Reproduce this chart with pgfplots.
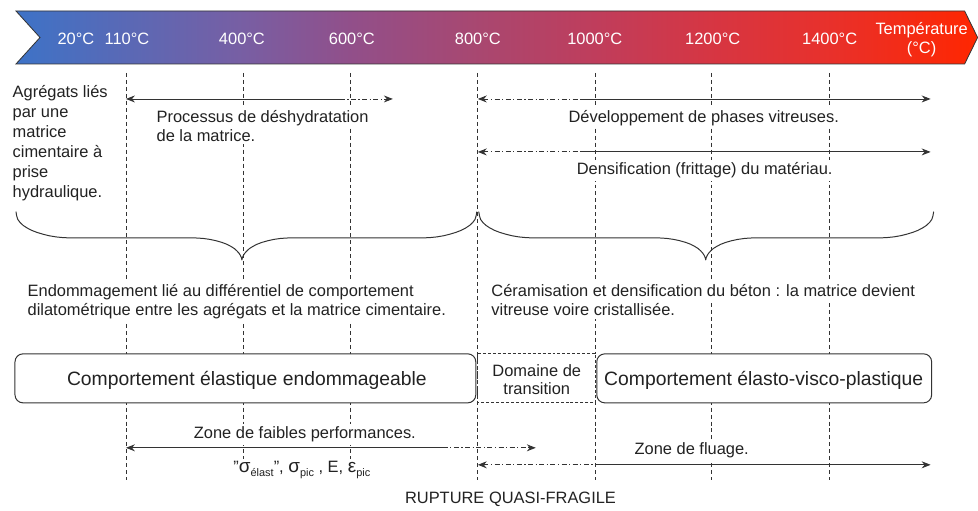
\documentclass[border=0pt]{standalone}
\usepackage{pgfplots}
\pgfplotsset{compat=1.18}
\usepackage{fontspec}
\setmainfont{Liberation Sans}
\usetikzlibrary{arrows.meta}
\definecolor{txt}{HTML}{222222}
\definecolor{ln}{HTML}{333333}
\pgfdeclarehorizontalshading{tempgrad}{100bp}{rgb(0bp)=(0.24,0.45,0.78); rgb(25bp)=(0.24,0.45,0.78); rgb(36.8bp)=(0.47,0.37,0.64); rgb(42.4bp)=(0.57,0.31,0.54); rgb(49bp)=(0.66,0.28,0.44); rgb(55.1bp)=(0.75,0.24,0.36); rgb(61.2bp)=(0.84,0.21,0.26); rgb(67.3bp)=(0.91,0.19,0.17); rgb(75bp)=(1,0.15,0); rgb(100bp)=(1,0.15,0)}
\newcommand\bodyf{\fontsize{16.5}{19.5}\selectfont}
\newcommand\boxf{\fontsize{19.4}{22}\selectfont}
\newcommand\gk{\fontsize{19}{20}\selectfont}
\newcommand\sub[1]{\raisebox{-3.5pt}{\fontsize{11}{12}\selectfont #1}}
\tikzset{
  t/.style={font=\bodyf, text=txt, inner sep=2.5pt, fill=white},
  hd/.style={font=\bodyf, text=white, inner sep=0pt},
  la/.style={{Stealth[length=9pt,width=7pt]}-},
  ra/.style={-{Stealth[length=9pt,width=7pt]}},
  dd/.style={dash pattern=on 5pt off 2.5pt on 1.2pt off 2.5pt},
  vl/.style={draw=ln, line width=0.8pt, dash pattern=on 4pt off 3pt},
  ar/.style={draw=ln, line width=0.9pt},
  br/.style={draw=ln, line width=1pt, line join=round, line cap=round},
}
\begin{document}
\begin{tikzpicture}
\begin{axis}[width=978bp, height=511bp, scale only axis, xmin=0, xmax=978, ymin=0, ymax=511, y dir=reverse, hide axis, clip=false]
\addplot[draw=none] coordinates {(0,0) (978,511)};
% banner
\addplot[draw=ln, line width=0.8pt, shade, shading=tempgrad] coordinates {(16,11) (965,11) (978,37.5) (965,64) (16,64) (40,37.5)} --cycle;
% vertical dashed lines
\addplot[vl] coordinates {(126,73) (126,480)};
\addplot[vl] coordinates {(243,73) (243,480)};
\addplot[vl] coordinates {(351,73) (351,480)};
\addplot[vl] coordinates {(478,73) (478,480)};
\addplot[vl] coordinates {(596,73) (596,480)};
\addplot[vl] coordinates {(712,73) (712,480)};
\addplot[vl] coordinates {(830,73) (830,480)};
% arrows
\addplot[ar, la] coordinates {(126,99) (340,99)};
\addplot[ar, dd, ra] coordinates {(340,99) (393,99)};
\addplot[ar, dd, la] coordinates {(478,99) (580,99)};
\addplot[ar, ra] coordinates {(580,99) (931,99)};
\addplot[ar, dd, la] coordinates {(478,152) (580,152)};
\addplot[ar, ra] coordinates {(580,152) (931,152)};
\addplot[ar, la] coordinates {(126,448) (443,448)};
\addplot[ar, dd, ra] coordinates {(443,448) (536,448)};
\addplot[ar, dd, la] coordinates {(478,465) (595,465)};
\addplot[ar, ra] coordinates {(595,465) (931,465)};
% braces
\addplot[br] coordinates {(16,212) (16.7,216) (17.8,219.5) (20,222.5) (23.2,225.5) (27,228) (31.8,230.5) (37,232.5) (43,234.3) (49,235.8) (56,237) (63,237.7) (70,238)
 (195,238) (203,238.5) (210,239.5) (216,240.8) (222,242.5) (227,244.4) (231,246.5) (234.5,248.7) (237,251) (239,253.2) (240.5,255.5) (241.5,257.8) (242,260)
 (242.5,257.8) (243.5,255.5) (245,253.2) (247,251) (249.5,248.7) (253,246.5) (257,244.4) (262,242.5) (268,240.8) (274,239.5) (281,238.5) (289,238)
 (423,238) (430,237.7) (437,237) (444,235.8) (450,234.3) (456,232.5) (461.2,230.5) (466,228) (469.8,225.5) (473,222.5) (475.2,219.5) (476.3,216) (477,212)};
\addplot[br] coordinates {(479,212) (479.7,216) (480.8,219.5) (483,222.5) (486.2,225.5) (490,228) (494.8,230.5) (500,232.5) (506,234.3) (512,235.8) (519,237) (526,237.7) (533,238)
 (659,238) (667,238.5) (674,239.5) (680,240.8) (686,242.5) (691,244.4) (695,246.5) (698.5,248.7) (701,251) (703,253.2) (704.5,255.5) (705.5,257.8) (706,260)
 (706.5,257.8) (707.5,255.5) (709,253.2) (711,251) (713.5,248.7) (717,246.5) (721,244.4) (726,242.5) (732,240.8) (738,239.5) (745,238.5) (753,238)
 (880,238) (887,237.7) (894,237) (901,235.8) (907,234.3) (913,232.5) (918.2,230.5) (923,228) (926.8,225.5) (930,222.5) (932.2,219.5) (933.3,216) (934,212)};
% boxes
\addplot[draw=ln, line width=1pt, fill=white, rounded corners=8pt] coordinates {(245,354) (476,354) (476,403) (15,403) (15,354)} --cycle;
\addplot[draw=ln, line width=0.8pt, dash pattern=on 3pt off 2pt, fill=white] coordinates {(478,354) (596,354) (596,403) (478,403)} --cycle;
\addplot[draw=ln, line width=1pt, fill=white, rounded corners=8pt] coordinates {(764,354) (932,354) (932,403) (597,403) (597,354)} --cycle;
% header labels
\node[hd, anchor=base] at (axis cs:76,44.5) {20°C};
\node[hd, anchor=base] at (axis cs:127,44.5) {110°C};
\node[hd, anchor=base] at (axis cs:242,44.5) {400°C};
\node[hd, anchor=base] at (axis cs:352,44.5) {600°C};
\node[hd, anchor=base] at (axis cs:478,44.5) {800°C};
\node[hd, anchor=base] at (axis cs:595,44.5) {1000°C};
\node[hd, anchor=base] at (axis cs:713,44.5) {1200°C};
\node[hd, anchor=base] at (axis cs:830,44.5) {1400°C};
\node[hd, anchor=base] at (axis cs:922,34.5) {Température};
\node[hd, anchor=base] at (axis cs:922,54) {(°C)};
% left column
\node[t, anchor=base west] at (axis cs:10,98) {Agrégats liés};
\node[t, anchor=base west] at (axis cs:10,118) {par une};
\node[t, anchor=base west] at (axis cs:10,138) {matrice};
\node[t, anchor=base west] at (axis cs:10,158) {cimentaire à};
\node[t, anchor=base west] at (axis cs:10,178) {prise};
\node[t, anchor=base west] at (axis cs:10,198) {hydraulique.};
% upper texts
\node[t, anchor=base west] at (axis cs:154,122.5) {Processus de déshydratation};
\node[t, anchor=base west] at (axis cs:154,141.5) {de la matrice.};
\node[t, anchor=base] at (axis cs:704,122.5) {Développement de phases vitreuses.};
\node[t, anchor=base] at (axis cs:705,175) {Densification (frittage) du matériau.};
\node[t, anchor=base west] at (axis cs:25,297) {Endommagement lié au différentiel de comportement};
\node[t, anchor=base west] at (axis cs:25,316) {dilatométrique entre les agrégats et la matrice cimentaire.};
\node[t, anchor=base west] at (axis cs:489,297) {Céramisation et densification du béton : la matrice devient};
\node[t, anchor=base west] at (axis cs:489,316) {vitreuse voire cristallisée.};
% box texts
\node[font=\boxf, text=txt, anchor=base] at (axis cs:247,385.5) {Comportement élastique endommageable};
\node[font=\boxf, text=txt, anchor=base] at (axis cs:764,385.5) {Comportement élasto-visco-plastique};
\node[font=\bodyf, text=txt, anchor=base, inner sep=0pt] at (axis cs:537,377) {Domaine de};
\node[font=\bodyf, text=txt, anchor=base, inner sep=0pt] at (axis cs:537,395) {transition};
% lower texts
\node[t, anchor=base] at (axis cs:305,439) {Zone de faibles performances.};
\node[t, anchor=base] at (axis cs:302,473) {"{\gk σ}\sub{élast}", {\gk σ}\sub{pic} , E, {\gk ε}\sub{pic}};
\node[t, anchor=base] at (axis cs:692,455) {Zone de fluage.};
\node[font=\bodyf, text=txt, anchor=base west, inner sep=0pt] at (axis cs:405,504) {RUPTURE QUASI-FRAGILE};
\end{axis}
\end{tikzpicture}
\end{document}
